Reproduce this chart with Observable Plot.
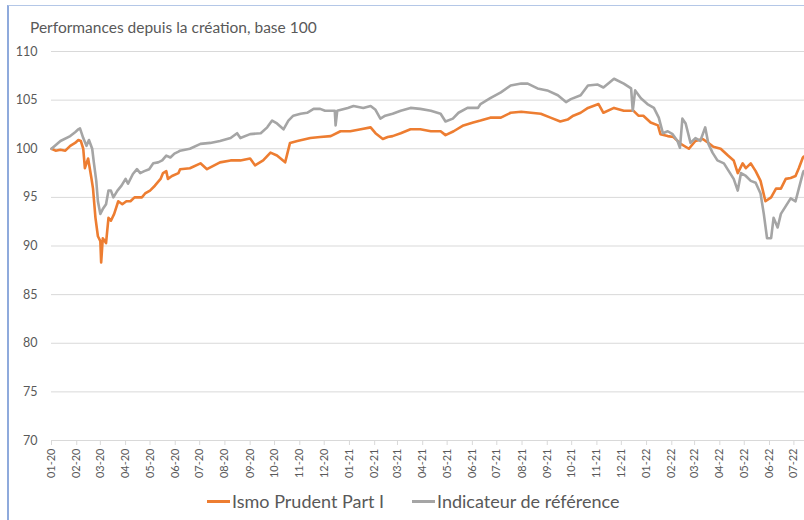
<!DOCTYPE html>
<html>
<head>
<meta charset="utf-8">
<script src="https://cdn.jsdelivr.net/npm/d3@7"></script>
<script src="https://cdn.jsdelivr.net/npm/@observablehq/plot@0.6"></script>
<style>
  html, body { margin: 0; padding: 0; background: #fff; }
  #wrap { position: relative; width: 804px; height: 520px; overflow: hidden; font-family: Lato, "Liberation Sans", sans-serif; color: #595959; }
  #frame { position: absolute; left: 7px; top: 5px; width: 900px; height: 600px; border-left: 2px solid #8faadc; border-top: 1px solid #b4c7e7; box-sizing: border-box; }
  #title { position: absolute; left: 30px; top: 20px; font-size: 15.5px; line-height: 15px; white-space: nowrap; }
  #chart { position: absolute; left: 0; top: 0; }
  .leg { position: absolute; top: 492px; font-size: 18px; line-height: 18px; white-space: nowrap; display: flex; align-items: center; }
  .sw { display: inline-block; width: 23px; height: 3px; margin-right: 2px; }
</style>
</head>
<body>
<div id="wrap">
  <div id="frame"></div>
  <div id="chart"></div>
  <div id="title">Performances depuis la création, base 100</div>
  <div class="leg" style="left:207px"><span class="sw" style="background:#ED7D31"></span>Ismo Prudent Part I</div>
  <div class="leg" style="left:412px"><span class="sw" style="background:#A5A5A5"></span>Indicateur de référence</div>
</div>
<script>
const seriesNames = ["Ismo Prudent Part I", "Indicateur de référence"];
const yTicks = [70, 75, 80, 85, 90, 95, 100, 105, 110];

const fundDates = ["2020-01-01","2020-01-06","2020-01-12","2020-01-18","2020-01-24","2020-01-30","2020-02-03","2020-02-06","2020-02-09","2020-02-11","2020-02-15","2020-02-19","2020-02-21","2020-02-24","2020-02-27","2020-03-01","2020-03-02","2020-03-04","2020-03-08","2020-03-11","2020-03-14","2020-03-18","2020-03-23","2020-03-28","2020-04-02","2020-04-07","2020-04-12","2020-04-17","2020-04-21","2020-04-25","2020-05-01","2020-05-07","2020-05-14","2020-05-17","2020-05-21","2020-05-23","2020-05-28","2020-06-05","2020-06-07","2020-06-19","2020-07-02","2020-07-10","2020-07-26","2020-08-08","2020-08-20","2020-09-01","2020-09-07","2020-09-17","2020-09-26","2020-10-04","2020-10-14","2020-10-20","2020-10-29","2020-11-14","2020-11-26","2020-12-09","2020-12-21","2021-01-02","2021-01-15","2021-01-27","2021-02-02","2021-02-11","2021-02-17","2021-02-23","2021-03-05","2021-03-17","2021-03-29","2021-04-11","2021-04-23","2021-04-29","2021-05-09","2021-05-21","2021-06-02","2021-06-11","2021-06-23","2021-07-06","2021-07-18","2021-07-31","2021-08-12","2021-08-24","2021-09-05","2021-09-17","2021-09-26","2021-10-03","2021-10-12","2021-10-21","2021-11-03","2021-11-09","2021-11-22","2021-12-04","2021-12-16","2021-12-22","2021-12-28","2022-01-06","2022-01-15","2022-01-18","2022-01-27","2022-02-03","2022-02-12","2022-02-22","2022-03-02","2022-03-11","2022-03-18","2022-03-24","2022-04-02","2022-04-11","2022-04-18","2022-04-23","2022-04-29","2022-05-03","2022-05-09","2022-05-15","2022-05-21","2022-05-27","2022-06-03","2022-06-09","2022-06-15","2022-06-21","2022-06-27","2022-07-03","2022-07-07","2022-07-12","2022-07-13"];
const fundValues = [100.0,99.8,99.9,99.8,100.3,100.6,100.9,100.8,100.0,98.0,99.0,97.0,95.9,92.9,91.0,90.5,88.3,90.8,90.3,92.9,92.6,93.3,94.6,94.3,94.6,94.6,95.0,95.0,95.0,95.4,95.7,96.2,96.9,97.5,97.7,96.9,97.2,97.5,97.9,98.0,98.5,97.9,98.6,98.8,98.8,99.0,98.3,98.8,99.6,99.3,98.6,100.6,100.8,101.1,101.2,101.3,101.8,101.8,102.0,102.2,101.6,101.0,101.2,101.3,101.6,102.0,102.0,101.8,101.8,101.4,101.8,102.4,102.7,102.9,103.2,103.2,103.7,103.8,103.7,103.6,103.2,102.8,103.0,103.4,103.7,104.2,104.6,103.7,104.2,103.9,103.9,103.4,103.4,102.7,102.4,101.5,101.3,101.2,100.5,100.0,100.8,101.0,100.6,100.2,100.0,99.3,98.8,97.5,98.5,98.0,98.5,97.7,96.7,94.6,95.0,95.9,95.9,96.9,97.0,97.2,98.0,99.1,99.2];

const refDates = ["2020-01-01","2020-01-12","2020-01-24","2020-01-30","2020-02-03","2020-02-05","2020-02-09","2020-02-13","2020-02-16","2020-02-20","2020-02-22","2020-02-25","2020-02-27","2020-03-01","2020-03-04","2020-03-08","2020-03-11","2020-03-14","2020-03-17","2020-03-22","2020-03-27","2020-04-01","2020-04-04","2020-04-10","2020-04-15","2020-04-19","2020-04-24","2020-04-30","2020-05-05","2020-05-11","2020-05-16","2020-05-21","2020-05-26","2020-05-31","2020-06-05","2020-06-07","2020-06-19","2020-07-02","2020-07-14","2020-07-26","2020-08-08","2020-08-16","2020-08-20","2020-09-01","2020-09-14","2020-09-22","2020-09-28","2020-10-04","2020-10-12","2020-10-18","2020-10-24","2020-11-02","2020-11-10","2020-11-18","2020-11-26","2020-12-02","2020-12-09","2020-12-14","2020-12-15","2020-12-17","2020-12-30","2021-01-06","2021-01-18","2021-01-27","2021-02-02","2021-02-08","2021-02-14","2021-02-23","2021-03-05","2021-03-17","2021-03-29","2021-04-11","2021-04-23","2021-04-29","2021-05-08","2021-05-15","2021-05-26","2021-06-08","2021-06-11","2021-06-23","2021-07-06","2021-07-18","2021-07-31","2021-08-08","2021-08-20","2021-09-01","2021-09-14","2021-09-24","2021-09-30","2021-10-12","2021-10-21","2021-11-02","2021-11-09","2021-11-22","2021-12-04","2021-12-13","2021-12-15","2021-12-18","2021-12-25","2022-01-02","2022-01-10","2022-01-16","2022-01-21","2022-01-27","2022-02-02","2022-02-08","2022-02-11","2022-02-14","2022-02-18","2022-02-24","2022-03-02","2022-03-08","2022-03-14","2022-03-18","2022-03-23","2022-03-29","2022-04-06","2022-04-12","2022-04-18","2022-04-23","2022-04-27","2022-05-03","2022-05-09","2022-05-15","2022-05-21","2022-05-25","2022-05-29","2022-06-03","2022-06-06","2022-06-11","2022-06-15","2022-06-21","2022-06-27","2022-07-03","2022-07-07","2022-07-12","2022-07-13"];
const refValues = [100.0,100.8,101.3,101.7,102.0,102.1,101.1,100.3,100.9,100.0,98.6,96.7,94.6,93.3,93.8,94.3,95.7,95.7,95.0,95.7,96.2,96.9,96.4,97.4,97.9,97.5,97.7,97.9,98.5,98.6,98.8,99.3,99.1,99.5,99.7,99.8,100.0,100.5,100.6,100.8,101.1,101.6,101.1,101.5,101.6,102.2,102.9,102.6,102.0,102.9,103.4,103.6,103.7,104.1,104.1,103.9,103.9,103.9,102.4,103.9,104.2,104.4,104.2,104.4,104.0,103.1,103.4,103.6,103.9,104.2,104.1,103.9,103.6,102.8,103.1,103.7,104.2,104.2,104.6,105.2,105.8,106.5,106.7,106.7,106.2,106.0,105.5,104.8,105.1,105.5,106.5,106.6,106.3,107.2,106.7,106.2,103.9,106.0,105.2,104.6,104.2,103.2,101.6,101.8,101.5,100.8,100.1,103.1,102.6,100.6,101.1,100.8,102.2,100.5,99.6,98.8,98.5,97.7,96.9,95.7,97.5,97.2,96.7,96.5,95.4,93.3,90.8,90.8,92.9,91.9,93.3,94.1,94.9,94.6,95.9,97.5,97.7];

const fund = fundDates.map((d, i) => ({date: new Date(d), value: fundValues[i]}));
const ref = refDates.map((d, i) => ({date: new Date(d), value: refValues[i]}));
const monthTicks = d3.utcMonth.range(new Date("2020-01-01"), new Date("2022-07-02"));

const chart = Plot.plot({
  width: 804,
  height: 520,
  marginLeft: 51,
  marginRight: 0,
  marginTop: 51,
  marginBottom: 80,
  style: {background: "transparent", fontFamily: "Lato, 'Liberation Sans', sans-serif", color: "#595959"},
  x: {type: "utc", domain: [new Date("2020-01-01"), new Date("2022-07-14")]},
  y: {domain: [70, 110]},
  marks: [
    Plot.ruleY(yTicks, {stroke: "#d9d9d9", strokeWidth: 1}),
    Plot.axisY({ticks: yTicks, tickSize: 0, tickPadding: 14, fontSize: 12.5, fill: "#595959", label: null}),
    Plot.axisX({ticks: monthTicks, tickFormat: d3.utcFormat("%m-%y"), tickRotate: -90, tickSize: 5, tickPadding: 3, stroke: "#d9d9d9", fill: "#595959", fontSize: 11, label: null}),
    Plot.line(fund, {x: "date", y: "value", stroke: "#ED7D31", strokeWidth: 2.6, strokeLinejoin: "round"}),
    Plot.line(ref, {x: "date", y: "value", stroke: "#A5A5A5", strokeWidth: 2.6, strokeLinejoin: "round"})
  ]
});
document.getElementById("chart").appendChild(chart);
</script>
</body>
</html>
